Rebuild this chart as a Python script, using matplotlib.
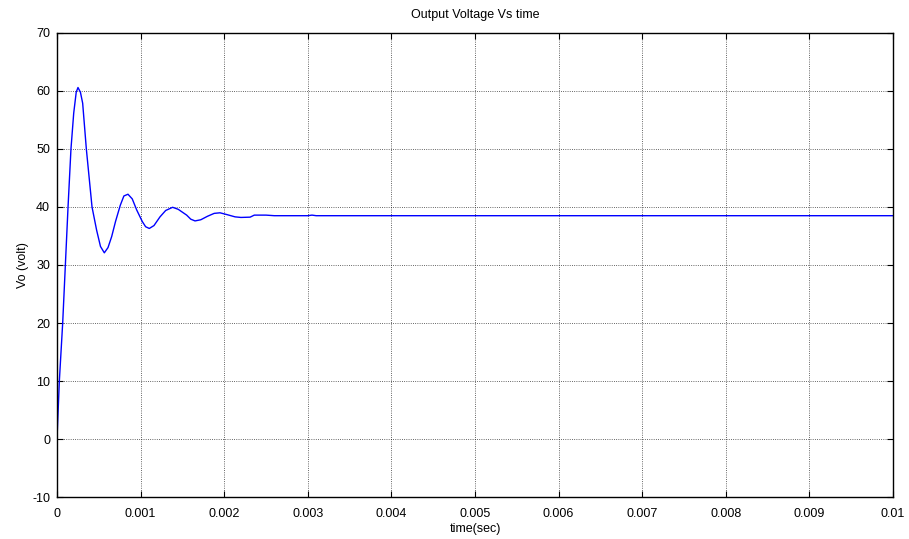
import matplotlib
matplotlib.use("Agg")
import matplotlib.pyplot as plt
import numpy as np

# time in ms, voltage in volts
time_ms = [0, 0.028, 0.068, 0.10, 0.132, 0.167, 0.20, 0.23, 0.251, 0.28, 0.307,
           0.351, 0.419, 0.474, 0.52, 0.566, 0.61, 0.654, 0.70, 0.757, 0.80,
           0.849, 0.90, 0.953, 1.02, 1.06, 1.104, 1.16, 1.232, 1.30, 1.383,
           1.45, 1.551, 1.60, 1.651, 1.72, 1.80, 1.88, 1.95, 2.03, 2.13, 2.2,
           2.31, 2.36, 2.5, 2.6, 3.0, 3.05, 3.1, 10.0]
voltage = [0, 10, 20, 30, 40, 50, 56.2, 59.8, 60.6, 59.8, 57.9,
           50, 40, 36, 33.2, 32.1, 33.0, 34.9, 37.5, 40.3, 41.9,
           42.2, 41.4, 39.5, 37.5, 36.6, 36.3, 36.8, 38.3, 39.4, 39.95,
           39.6, 38.6, 37.9, 37.6, 37.8, 38.4, 38.9, 39.0, 38.7, 38.3, 38.2,
           38.25, 38.6, 38.6, 38.5, 38.5, 38.6, 38.5, 38.5]

xticks = [0, 0.001, 0.002, 0.003, 0.004, 0.005, 0.006, 0.007, 0.008, 0.009, 0.01]
xticklabels = ["0", "0.001", "0.002", "0.003", "0.004", "0.005", "0.006", "0.007", "0.008", "0.009", "0.01"]
yticks = [-10, 0, 10, 20, 30, 40, 50, 60, 70]

plt.rcParams['font.family'] = ['Liberation Sans', 'DejaVu Sans']
plt.rcParams['axes.unicode_minus'] = False

fig = plt.figure(figsize=(9.09, 5.39), dpi=100)
ax = fig.add_axes([57/909, 1-497/539, (893-57)/909, (497-33)/539])

t = np.array(time_ms) / 1000.0
ax.plot(t, voltage, color=(0, 0, 1), linewidth=1.0)

ax.set_xlim(0, 0.01)
ax.set_ylim(-10, 70)
ax.set_xticks(xticks)
ax.set_xticklabels(xticklabels)
ax.set_yticks(yticks)
ax.grid(True, color='black', linestyle=':', linewidth=0.6, alpha=0.8)
ax.tick_params(direction='in', length=4, labelsize=9, top=True, right=True, width=0.8)
ax.tick_params(axis='x', pad=8)
ax.tick_params(axis='y', pad=5)
for s in ax.spines.values():
    s.set_linewidth(1.0)

ax.set_title("Output Voltage Vs time", fontsize=9, pad=11)
ax.set_xlabel("time(sec)", fontsize=9, labelpad=2)
ax.set_ylabel("Vo (volt)", fontsize=9, labelpad=2)

fig.savefig("out.png", dpi=100)
